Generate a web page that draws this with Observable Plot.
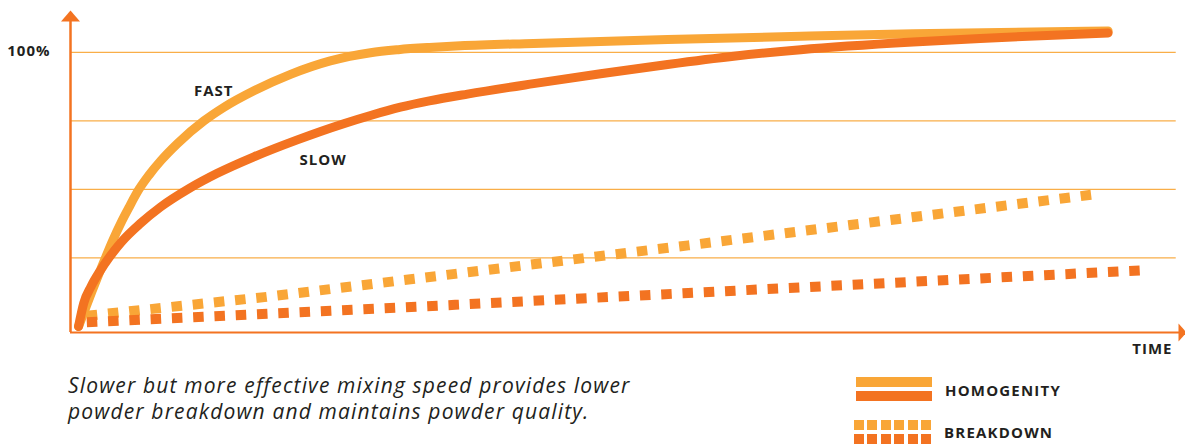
<!DOCTYPE html>
<html><head><meta charset="utf-8">
<script src="https://cdn.jsdelivr.net/npm/d3@7"></script>
<script src="https://cdn.jsdelivr.net/npm/@observablehq/plot@0.6"></script>
<style>
html,body{margin:0;padding:0;background:#fff;}
body{width:1185px;height:446px;position:relative;overflow:hidden;font-family:"Open Sans",sans-serif;color:#231F20;}
#chart{position:absolute;left:0;top:0;}
#chart svg text{letter-spacing:1px;}
.caption{position:absolute;left:68px;top:372px;font-style:italic;font-size:21px;letter-spacing:1.15px;line-height:26px;white-space:nowrap;}
.sw{position:absolute;left:856px;width:76px;height:9.5px;}
.sq{position:absolute;left:854px;width:78px;height:9.5px;}
.lab{position:absolute;font-weight:700;font-size:15px;letter-spacing:1.2px;line-height:20px;}
</style></head>
<body>
<div id="chart"></div>
<div class="caption">Slower but more effective mixing speed provides lower<br>powder breakdown and maintains powder quality.</div>
<div class="sw" id="swLight" style="top:377px"></div>
<div class="sw" id="swDark" style="top:391px"></div>
<div class="lab" style="left:945px;top:380px">HOMOGENITY</div>
<div class="sq" id="sqLight" style="top:420px"></div>
<div class="sq" id="sqDark" style="top:434px"></div>
<div class="lab" style="left:944px;top:422px">BREAKDOWN</div>
<script>
const LIGHT = "#F9A637";
const DARK = "#F37321";
const GRID = "#F9AE48";

// Homogenity curves (time units, percent)
const fastT = [0, 1.3, 2.6, 3.27, 4.2, 4.88, 5.85, 6.8, 8.0, 9.57, 12.15, 14.1, 17.0, 20.55, 24.4, 28.3, 31.0, 34.0, 37.0, 44.1, 57.1, 70.0, 80.9, 99.8];
const fastV = [0, 12.8, 25.0, 31.0, 38.5, 43.4, 50.0, 55.1, 60.6, 66.7, 75.0, 80.0, 86.0, 92.0, 96.9, 99.9, 101.0, 101.8, 102.4, 103.3, 104.7, 105.9, 106.8, 107.8];
const slowT = [0, 0.5, 1.2, 2.13, 2.94, 4.2, 6.0, 7.95, 10.7, 13.4, 17.0, 21.2, 25.7, 28.3, 31.2, 34.0, 37.7, 44.1, 50.6, 57.1, 63.5, 70.0, 80.9, 87.4, 93.9, 99.8];
const slowV = [0, 8.5, 14.5, 20.5, 25.0, 31.0, 37.6, 43.6, 50.3, 55.8, 61.9, 68.1, 74.0, 77.0, 80.0, 82.3, 84.8, 88.6, 92.2, 95.6, 98.6, 101.0, 103.8, 105.1, 106.2, 107.1];
// Breakdown lines
const fastBreakT = [0.8, 18.0, 36.5, 59.1, 98.9];
const fastBreakV = [3.9, 10.7, 19.2, 29.6, 48.4];
const slowBreakT = [0.8, 36.5, 59.1, 103.1];
const slowBreakV = [1.5, 7.9, 12.2, 20.5];
// Grid / ticks / labels
const gridValues = [25, 50, 75, 100];
const yTicks = [100];
const yTickLabels = ["100%"];
const curveLabels = ["FAST", "SLOW"];
const curveLabelT = [13.1, 23.7];
const curveLabelV = [85.8, 60.6];
const xAxisLabel = "TIME";

const xMin = -0.78, xMax = 107.3, yMin = -2.2, yMax = 115.3, gridEnd = 106.4;

const toRows = (T, V) => T.map((t, i) => ({t, v: V[i]}));
const fast = toRows(fastT, fastV);
const slow = toRows(slowT, slowV);
const fastB = toRows(fastBreakT, fastBreakV);
const slowB = toRows(slowBreakT, slowBreakV);
const labels = curveLabels.map((s, i) => ({s, t: curveLabelT[i], v: curveLabelV[i]}));

const upHead = {draw(c){ c.moveTo(0, 0); c.lineTo(9.5, 11); c.lineTo(-9.5, 11); c.closePath(); }};
const rightHead = {draw(c){ c.moveTo(1, 0); c.lineTo(-7, -9); c.lineTo(-7, 9); c.closePath(); }};

const chart = Plot.plot({
  width: 1185,
  height: 360,
  marginLeft: 70,
  marginRight: 0,
  marginTop: 10,
  marginBottom: 28,
  x: {domain: [xMin, xMax], axis: null},
  y: {domain: [yMin, yMax], axis: null},
  style: {fontFamily: "Open Sans", color: "#231F20", background: "white"},
  marks: [
    Plot.ruleY(gridValues, {y: d => d, x1: xMin, x2: gridEnd, stroke: GRID, strokeWidth: 1.3}),
    Plot.line(fastB, {x: "t", y: "v", stroke: LIGHT, strokeWidth: 10, strokeDasharray: "10.5,10.8", strokeLinecap: "butt"}),
    Plot.line(slowB, {x: "t", y: "v", stroke: DARK, strokeWidth: 10, strokeDasharray: "10.5,10.8", strokeLinecap: "butt"}),
    Plot.line(fast, {x: "t", y: "v", stroke: LIGHT, strokeWidth: 9, curve: "monotone-x", strokeLinecap: "round"}),
    Plot.line(slow, {x: "t", y: "v", stroke: DARK, strokeWidth: 9, curve: "monotone-x", strokeLinecap: "round"}),
    Plot.ruleX([xMin], {x: d => d, y1: yMin, y2: yMax - 3, stroke: DARK, strokeWidth: 2.5}),
    Plot.ruleY([yMin], {y: d => d, x1: xMin, x2: xMax - 0.5, stroke: DARK, strokeWidth: 2.2}),
    Plot.dot([{t: xMin, v: yMax}], {x: "t", y: "v", symbol: upHead, fill: DARK, stroke: null, r: 5}),
    Plot.dot([{t: xMax, v: yMin}], {x: "t", y: "v", symbol: rightHead, fill: DARK, stroke: null, r: 5}),
    Plot.text(yTicks, {x: xMin, y: d => d, text: (d, i) => yTickLabels[i], dx: -20, dy: -1.5, textAnchor: "end", fontWeight: 700, fontSize: 15}),
    Plot.text(labels, {x: "t", y: "v", text: "s", fontWeight: 700, fontSize: 15}),
    Plot.text([xAxisLabel], {x: xMax, y: yMin, text: d => d, dx: -13, dy: 17, textAnchor: "end", fontWeight: 700, fontSize: 15})
  ]
});
document.getElementById("chart").appendChild(chart);

document.getElementById("swLight").style.background = LIGHT;
document.getElementById("swDark").style.background = DARK;
document.getElementById("sqLight").style.background = `repeating-linear-gradient(to right, ${LIGHT} 0 10px, transparent 10px 13.4px)`;
document.getElementById("sqDark").style.background = `repeating-linear-gradient(to right, ${DARK} 0 10px, transparent 10px 13.4px)`;
</script>
</body></html>
